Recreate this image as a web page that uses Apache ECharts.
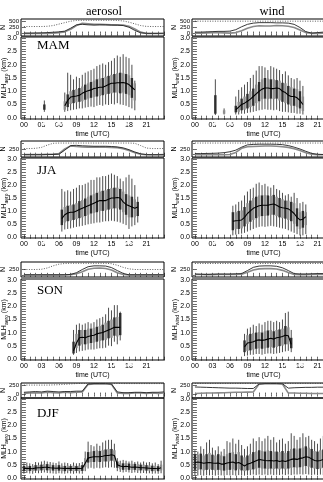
<!DOCTYPE html>
<html>
<head>
<meta charset="utf-8">
<script src="https://cdn.jsdelivr.net/npm/echarts@6/dist/echarts.min.js"></script>
<style>
html, body { margin: 0; padding: 0; background: #fff; }
#chart { width: 323px; height: 482px; }
</style>
</head>
<body>
<div id="chart"></div>
<script>
// ticks and labels
const hourTicks = [0,1,2,3,4,5,6,7,8,9,10,11,12,13,14,15,16,17,18,19,20,21,22,23,24];
const hourLabels = [0,3,6,9,12,15,18,21];
const mlhLabels = [0,0.5,1,1.5,2,2.5,3];
const mlhTicks = [0,0.1,0.2,0.3,0.4,0.5,0.6,0.7,0.8,0.9,1,1.1,1.2,1.3,1.4,1.5,1.6,1.7,1.8,1.9,2,2.1,2.2,2.3,2.4,2.5,2.6,2.7,2.8,2.9,3];
const nHours = [0,1,2,3,4,5,6,7,8,9,10,11,12,13,14,15,16,17,18,19,20,21,22,23,24];

// box rows: [hour, low whisker, lower box, median, upper box, high whisker]
const mamAerosol = [
  [3.5,0.22,0.30,0.40,0.50,0.65],
  [7.0,0.22,0.30,0.45,0.62,0.95],[7.5,0.25,0.40,0.65,0.88,1.70],[8.0,0.28,0.52,0.78,1.00,1.62],
  [8.5,0.30,0.55,0.80,1.05,1.45],[9.0,0.32,0.58,0.82,1.08,1.55],[9.5,0.35,0.60,0.85,1.12,1.50],
  [10.0,0.35,0.62,0.92,1.18,1.62],[10.5,0.38,0.68,0.98,1.25,1.70],[11.0,0.40,0.72,1.02,1.30,1.75],
  [11.5,0.42,0.75,1.05,1.35,1.80],[12.0,0.40,0.78,1.10,1.40,1.85],[12.5,0.45,0.80,1.12,1.45,1.95],
  [13.0,0.48,0.82,1.15,1.48,2.00],[13.5,0.45,0.85,1.15,1.50,2.05],[14.0,0.50,0.88,1.20,1.55,2.00],
  [14.5,0.48,0.90,1.25,1.58,2.10],[15.0,0.52,0.92,1.30,1.62,2.15],[15.5,0.50,0.95,1.30,1.65,2.25],
  [16.0,0.55,0.95,1.32,1.68,2.35],[16.5,0.50,0.92,1.32,1.70,2.30],[17.0,0.48,0.95,1.33,1.68,2.40],
  [17.5,0.45,0.90,1.30,1.65,2.30],[18.0,0.40,0.85,1.25,1.60,2.25],[18.5,0.35,0.75,1.15,1.50,2.00],
  [19.0,0.28,0.65,1.05,1.30,1.40]
];
const mamWind = [
  [3.5,0.10,0.15,0.30,0.85,1.45],[5.0,0.12,0.15,0.22,0.28,0.35],
  [7.0,0.12,0.20,0.30,0.45,0.80],[7.5,0.12,0.22,0.40,0.60,1.05],[8.0,0.15,0.28,0.50,0.72,1.15],
  [8.5,0.15,0.30,0.55,0.80,1.25],[9.0,0.18,0.35,0.62,0.90,1.35],[9.5,0.20,0.40,0.70,1.00,1.50],
  [10.0,0.22,0.45,0.80,1.10,1.62],[10.5,0.25,0.55,0.90,1.25,1.78],[11.0,0.28,0.62,1.00,1.35,1.95],
  [11.5,0.30,0.70,1.08,1.45,1.95],[12.0,0.32,0.72,1.12,1.50,1.90],[12.5,0.30,0.70,1.12,1.48,1.80],
  [13.0,0.30,0.72,1.10,1.45,1.95],[13.5,0.28,0.70,1.10,1.45,1.90],[14.0,0.30,0.72,1.12,1.42,1.85],
  [14.5,0.25,0.65,1.10,1.40,1.80],[15.0,0.22,0.60,1.00,1.32,1.65],[15.5,0.22,0.55,0.95,1.30,1.75],
  [16.0,0.20,0.50,0.85,1.20,1.60],[16.5,0.18,0.45,0.80,1.15,1.50],[17.0,0.18,0.45,0.80,1.10,1.45],
  [17.5,0.15,0.40,0.75,1.08,1.50],[18.0,0.15,0.35,0.65,1.00,1.40],[18.5,0.12,0.25,0.50,0.80,1.20]
];
const jjaAerosol = [
  [6.5,0.20,0.45,0.70,1.05,1.85],[7.0,0.28,0.55,0.85,1.15,1.75],[7.5,0.30,0.60,0.92,1.20,1.80],
  [8.0,0.32,0.62,0.95,1.22,1.75],[8.5,0.35,0.65,0.95,1.25,1.85],[9.0,0.38,0.68,1.00,1.30,1.90],
  [9.5,0.40,0.72,1.05,1.38,2.00],[10.0,0.42,0.75,1.10,1.42,2.00],[10.5,0.45,0.80,1.15,1.48,2.05],
  [11.0,0.48,0.85,1.20,1.55,2.10],[11.5,0.50,0.90,1.25,1.60,2.20],[12.0,0.52,0.92,1.30,1.65,2.20],
  [12.5,0.55,0.95,1.35,1.70,2.30],[13.0,0.55,1.00,1.40,1.75,2.30],[13.5,0.58,1.00,1.40,1.78,2.35],
  [14.0,0.60,1.02,1.40,1.80,2.35],[14.5,0.60,1.05,1.45,1.85,2.40],[15.0,0.62,1.08,1.50,1.88,2.45],
  [15.5,0.60,1.10,1.50,1.90,2.40],[16.0,0.58,1.10,1.52,1.90,2.35],[16.5,0.55,1.05,1.50,1.85,2.25],
  [17.0,0.50,0.95,1.35,1.75,2.15],[17.5,0.45,0.85,1.25,1.65,2.30],[18.0,0.30,0.75,1.20,1.60,2.40],
  [18.5,0.40,0.75,1.15,1.55,2.25],[19.0,0.45,0.75,1.10,1.45,2.00],[19.5,0.55,0.80,1.15,1.35,1.55]
];
const jjaWind = [
  [6.5,0.05,0.25,0.60,0.95,1.20],[7.0,0.08,0.30,0.62,0.95,1.25],[7.5,0.10,0.30,0.63,1.00,1.35],
  [8.0,0.12,0.32,0.65,1.02,1.40],[8.5,0.15,0.40,0.75,1.15,1.60],[9.0,0.20,0.50,0.90,1.30,1.75],
  [9.5,0.25,0.58,1.00,1.40,1.85],[10.0,0.30,0.65,1.10,1.50,1.90],[10.5,0.35,0.72,1.15,1.55,2.05],
  [11.0,0.38,0.78,1.20,1.60,2.10],[11.5,0.40,0.80,1.22,1.60,2.00],[12.0,0.38,0.80,1.22,1.62,2.05],
  [12.5,0.40,0.82,1.22,1.60,1.95],[13.0,0.42,0.85,1.25,1.58,1.90],[13.5,0.40,0.85,1.27,1.62,2.00],
  [14.0,0.38,0.80,1.22,1.55,1.85],[14.5,0.35,0.75,1.15,1.50,1.80],[15.0,0.32,0.72,1.12,1.45,1.70],
  [15.5,0.30,0.70,1.10,1.40,1.60],[16.0,0.25,0.65,1.08,1.40,1.65],[16.5,0.20,0.60,1.00,1.35,1.55],
  [17.0,0.15,0.50,0.90,1.30,1.70],[17.5,0.10,0.40,0.75,1.10,1.50],[18.0,0.05,0.30,0.65,0.95,1.30],
  [18.5,0.05,0.35,0.68,1.00,1.35],[19.0,0.10,0.45,0.78,0.95,1.25]
];
const sonAerosol = [
  [8.5,0.15,0.20,0.30,0.65,1.10],[9.0,0.22,0.40,0.60,0.95,1.30],[9.5,0.28,0.50,0.80,1.10,1.35],
  [10.0,0.30,0.55,0.82,1.10,1.30],[10.5,0.32,0.55,0.80,1.10,1.35],[11.0,0.35,0.58,0.85,1.15,1.40],
  [11.5,0.35,0.60,0.88,1.15,1.35],[12.0,0.35,0.62,0.90,1.18,1.40],[12.5,0.38,0.65,0.95,1.22,1.50],
  [13.0,0.40,0.68,0.98,1.25,1.55],[13.5,0.40,0.70,1.00,1.30,1.60],[14.0,0.42,0.72,1.05,1.38,1.70],
  [14.5,0.50,0.78,1.10,1.45,1.95],[15.0,0.48,0.80,1.15,1.50,1.85],[15.5,0.65,0.88,1.20,1.58,2.05],
  [16.0,0.55,0.85,1.20,1.60,2.05],[16.5,0.70,0.90,1.20,1.75,1.80]
];
const sonWind = [
  [8.5,0.10,0.25,0.45,0.70,0.95],[9.0,0.12,0.30,0.60,0.90,1.15],[9.5,0.15,0.32,0.62,0.95,1.20],
  [10.0,0.15,0.35,0.65,0.98,1.30],[10.5,0.18,0.38,0.70,1.00,1.25],[11.0,0.18,0.40,0.72,1.02,1.35],
  [11.5,0.15,0.38,0.70,1.00,1.30],[12.0,0.18,0.40,0.72,1.05,1.40],[12.5,0.20,0.42,0.75,1.08,1.45],
  [13.0,0.20,0.45,0.78,1.10,1.45],[13.5,0.18,0.42,0.75,1.05,1.40],[14.0,0.20,0.45,0.80,1.10,1.45],
  [14.5,0.22,0.48,0.82,1.12,1.40],[15.0,0.25,0.50,0.85,1.15,1.50],[15.5,0.28,0.55,0.90,1.25,1.75],
  [16.0,0.30,0.55,0.88,1.20,1.80],[16.5,0.25,0.40,0.55,0.80,1.10]
];
const djfAerosol = [
  [0.0,0.15,0.25,0.35,0.45,0.55],[0.5,0.18,0.27,0.36,0.46,0.58],[1.0,0.16,0.26,0.35,0.45,0.55],
  [1.5,0.15,0.25,0.34,0.44,0.52],[2.0,0.18,0.27,0.37,0.48,0.60],[2.5,0.17,0.27,0.38,0.48,0.58],
  [3.0,0.18,0.28,0.38,0.50,0.62],[3.5,0.20,0.30,0.40,0.52,0.65],[4.0,0.18,0.28,0.40,0.52,0.62],
  [4.5,0.17,0.28,0.38,0.50,0.60],[5.0,0.16,0.27,0.37,0.48,0.58],[5.5,0.15,0.26,0.36,0.47,0.56],
  [6.0,0.17,0.27,0.37,0.48,0.62],[6.5,0.16,0.26,0.36,0.46,0.55],[7.0,0.15,0.25,0.35,0.45,0.58],
  [7.5,0.17,0.27,0.36,0.46,0.56],[8.0,0.16,0.26,0.35,0.45,0.52],[8.5,0.15,0.25,0.35,0.46,0.58],
  [9.0,0.17,0.26,0.36,0.45,0.55],[9.5,0.16,0.25,0.35,0.46,0.56],[10.0,0.15,0.26,0.36,0.48,0.60],
  [10.5,0.25,0.40,0.55,0.75,1.00],[11.0,0.35,0.58,0.75,0.98,1.38],[11.5,0.38,0.60,0.78,1.00,1.25],
  [12.0,0.35,0.60,0.80,1.02,1.20],[12.5,0.38,0.62,0.80,1.05,1.30],[13.0,0.36,0.60,0.80,1.02,1.22],
  [13.5,0.38,0.62,0.82,1.05,1.35],[14.0,0.40,0.62,0.85,1.08,1.42],[14.5,0.38,0.62,0.85,1.10,1.45],
  [15.0,0.40,0.65,0.88,1.10,1.45],[15.5,0.38,0.62,0.85,1.05,1.30],[16.0,0.25,0.38,0.50,0.62,0.75],
  [16.5,0.22,0.32,0.45,0.55,0.65],[17.0,0.20,0.30,0.42,0.55,0.68],[17.5,0.22,0.32,0.44,0.56,0.65],
  [18.0,0.20,0.30,0.42,0.54,0.62],[18.5,0.18,0.30,0.40,0.52,0.65],[19.0,0.20,0.30,0.41,0.53,0.60],
  [19.5,0.18,0.28,0.40,0.52,0.62],[20.0,0.17,0.28,0.38,0.50,0.58],[20.5,0.18,0.28,0.38,0.50,0.62],
  [21.0,0.16,0.27,0.37,0.48,0.58],[21.5,0.17,0.27,0.36,0.47,0.60],[22.0,0.15,0.25,0.35,0.46,0.55],
  [22.5,0.16,0.26,0.35,0.45,0.58],[23.0,0.15,0.25,0.34,0.44,0.52],[23.5,0.17,0.28,0.38,0.50,0.65]
];
const djfWind = [
  [0.0,0.10,0.30,0.58,0.90,1.05],[0.5,0.08,0.30,0.60,0.88,1.00],[1.0,0.10,0.32,0.58,0.92,1.20],
  [1.5,0.08,0.28,0.55,0.85,1.10],[2.0,0.10,0.30,0.57,0.90,1.35],[2.5,0.09,0.32,0.58,0.95,1.45],
  [3.0,0.10,0.30,0.56,0.88,1.15],[3.5,0.08,0.28,0.55,0.85,1.05],[4.0,0.10,0.30,0.56,0.90,1.20],
  [4.5,0.09,0.28,0.52,0.85,1.00],[5.0,0.08,0.27,0.52,0.82,1.10],[5.5,0.10,0.30,0.56,0.90,1.40],
  [6.0,0.09,0.30,0.58,0.95,1.35],[6.5,0.10,0.32,0.60,0.98,1.50],[7.0,0.08,0.28,0.55,0.90,1.30],
  [7.5,0.10,0.32,0.58,0.98,1.45],[8.0,0.09,0.28,0.52,0.85,1.25],[8.5,0.08,0.25,0.45,0.78,1.10],
  [9.0,0.10,0.28,0.52,0.85,1.20],[9.5,0.10,0.30,0.55,0.90,1.30],[10.0,0.12,0.32,0.60,0.98,1.50],
  [10.5,0.10,0.35,0.65,1.00,1.40],[11.0,0.12,0.38,0.70,1.05,1.55],[11.5,0.10,0.35,0.68,1.02,1.40],
  [12.0,0.12,0.35,0.66,1.00,1.50],[12.5,0.10,0.33,0.65,1.05,1.60],[13.0,0.12,0.35,0.66,1.02,1.45],
  [13.5,0.10,0.33,0.64,1.00,1.55],[14.0,0.11,0.35,0.66,1.00,1.35],[14.5,0.10,0.32,0.62,0.98,1.45],
  [15.0,0.12,0.35,0.65,1.02,1.50],[15.5,0.10,0.32,0.62,0.95,1.30],[16.0,0.12,0.35,0.66,1.02,1.40],
  [16.5,0.10,0.38,0.70,1.10,1.70],[17.0,0.12,0.40,0.72,1.12,1.60],[17.5,0.12,0.38,0.70,1.08,1.45],
  [18.0,0.13,0.40,0.74,1.12,1.55],[18.5,0.12,0.42,0.76,1.15,1.70],[19.0,0.14,0.45,0.80,1.20,1.55],
  [19.5,0.12,0.42,0.78,1.15,1.60],[20.0,0.10,0.38,0.72,1.10,1.45],[20.5,0.12,0.35,0.66,1.02,1.40],
  [21.0,0.10,0.33,0.64,1.00,1.30],[21.5,0.12,0.35,0.66,1.05,1.50],[22.0,0.10,0.38,0.70,1.08,1.60],
  [22.5,0.12,0.40,0.75,1.12,1.55],[23.0,0.13,0.42,0.78,1.15,1.65],[23.5,0.12,0.40,0.72,1.10,1.45]
];

// N per hour: all profiles (dotted), and two valid counts
const mamAerosolNAll = [290,290,290,290,300,330,390,450,510,540,545,545,545,545,545,545,540,520,470,400,330,295,290,290,290];
const mamAerosolNA = [20,20,25,30,40,55,70,100,220,360,380,360,350,360,360,350,345,330,260,130,30,10,10,10,15];
const mamAerosolNB = [0,0,0,5,10,20,40,70,180,330,420,400,380,380,370,360,360,350,300,190,60,5,0,0,0];
const mamWindNAll = [510,510,510,510,510,510,510,510,510,510,510,510,510,510,510,510,510,510,510,510,510,510,510,510,510];
const mamWindNA = [60,60,70,80,90,90,100,160,280,380,430,450,450,450,440,440,430,380,250,80,20,40,60,70,60];
const mamWindNB = [20,20,30,40,40,30,20,40,120,220,290,320,310,310,330,320,300,250,150,40,10,10,20,30,20];
const jjaAerosolNAll = [270,270,280,320,420,500,510,510,510,510,510,510,510,510,510,510,510,510,510,500,400,290,270,270,270];
const jjaAerosolNA = [0,0,0,0,5,10,20,200,400,410,390,380,370,370,370,360,340,300,220,120,40,5,0,0,0];
const jjaAerosolNB = [10,10,10,10,20,30,50,250,380,360,340,330,330,330,330,320,310,260,180,90,20,0,0,0,5];
const jjaWindNAll = [510,510,510,510,510,510,510,510,510,510,510,510,510,510,510,510,510,510,510,510,510,510,510,510,510];
const jjaWindNA = [50,50,55,60,70,90,130,200,330,430,450,460,460,460,455,440,400,330,250,150,60,20,10,20,40];
const jjaWindNB = [0,0,0,0,0,0,10,100,280,350,360,370,380,380,370,350,320,260,180,90,20,0,0,0,0];
const sonAerosolNAll = [250,250,250,260,320,420,500,530,540,540,540,540,540,540,540,520,450,350,280,250,250,250,250,250,250];
const sonAerosolNA = [0,0,0,0,0,0,0,5,20,100,250,380,420,420,410,340,200,70,0,0,0,0,0,0,0];
const sonAerosolNB = [0,0,0,0,0,0,0,0,10,50,150,260,310,320,300,230,100,20,0,0,0,0,0,0,0];
const sonWindNAll = [530,530,530,530,530,530,530,530,530,530,530,530,530,530,530,530,530,530,530,530,530,530,530,530,530];
const sonWindNA = [40,30,20,30,40,40,40,50,60,200,350,410,420,420,400,330,200,60,40,40,50,60,60,50,40];
const sonWindNB = [20,20,10,10,20,20,20,20,30,120,230,280,290,290,270,210,110,20,10,10,20,20,20,20,20];
const djfAerosolNAll = [250,250,250,250,250,255,260,270,280,290,295,295,295,295,295,295,295,290,290,290,290,290,290,290,290];
const djfAerosolNA = [60,70,80,70,90,80,70,80,80,90,90,280,290,290,290,280,70,50,50,60,60,50,60,60,70];
const djfAerosolNB = [30,40,50,40,60,50,40,60,50,60,70,270,280,280,285,270,40,30,30,40,40,30,40,30,40];
const djfWindNAll = [295,295,295,295,295,295,295,295,295,295,295,295,295,295,295,295,295,295,295,295,295,295,295,295,295];
const djfWindNA = [200,195,190,185,180,175,170,170,165,160,160,280,290,290,290,285,170,180,185,190,190,195,195,200,200];
const djfWindNB = [30,35,40,40,45,50,55,60,60,65,70,275,285,285,285,280,40,40,35,35,30,30,30,35,35];

// sunrise / sunset marks (hours)
const mamSun = [3.6, 6.0, 17.3, 19.6];
const jjaSun = [3.6, 4.9, 18.0, 19.8];
const sonSun = [5.1, 7.8, 15.7, 18.2];
const djfSun = [];

const seasons = ['MAM', 'JJA', 'SON', 'DJF'];
const columns = ['aerosol', 'wind'];

// layout (pixels)
const rows = [
  { nTop: 19, nH: 17, mTop: 37, mH: 82, label: 46 },
  { nTop: 141, nH: 16, mTop: 158, mH: 80, label: 171 },
  { nTop: 262, nH: 15, mTop: 279, mH: 81, label: 291 },
  { nTop: 383, nH: 15, mTop: 398, mH: 81, label: 414 }
];
const colLeft = [21, 192];
const colWidth = 143;
const nRange = [[-100, 600], [-100, 600], [-100, 600], [-90, 305]];
const nLabelVals = [[0, 250, 500], [0, 250, 500], [0, 250], [0, 250]];

const boxes = [[mamAerosol, mamWind], [jjaAerosol, jjaWind], [sonAerosol, sonWind], [djfAerosol, djfWind]];
const counts = [
  [[mamAerosolNAll, mamAerosolNA, mamAerosolNB], [mamWindNAll, mamWindNA, mamWindNB]],
  [[jjaAerosolNAll, jjaAerosolNA, jjaAerosolNB], [jjaWindNAll, jjaWindNA, jjaWindNB]],
  [[sonAerosolNAll, sonAerosolNA, sonAerosolNB], [sonWindNAll, sonWindNA, sonWindNB]],
  [[djfAerosolNAll, djfAerosolNA, djfAerosolNB], [djfWindNAll, djfWindNA, djfWindNB]]
];
const sunMarks = [mamSun, jjaSun, sonSun, djfSun];

const sans = '"Liberation Sans", Arial, sans-serif';
const serif = '"Liberation Serif", "DejaVu Serif", serif';
const pad2 = v => String(v).padStart(2, '0');

function renderBox(params, api) {
  const h = api.value(0);
  const lo = api.coord([h, api.value(1)]);
  const q1 = api.coord([h, api.value(2)]);
  const q3 = api.coord([h, api.value(4)]);
  const hi = api.coord([h, api.value(5)]);
  const w = 2.4;
  const fill = params.dataIndex % 2 ? '#8e8e8e' : '#2e2e2e';
  return {
    type: 'group',
    children: [
      { type: 'line', shape: { x1: lo[0], y1: lo[1], x2: hi[0], y2: hi[1] },
        style: { stroke: '#3a3a3a', lineWidth: 0.9 } },
      { type: 'rect', shape: { x: q3[0] - w / 2, y: q3[1], width: w, height: q1[1] - q3[1] },
        style: { fill: fill } }
    ]
  };
}

const grid = [], xAxis = [], yAxis = [], series = [], graphic = [];
const tickStyle = { inside: true, length: 2, lineStyle: { color: '#000', width: 0.6 } };

seasons.forEach((season, r) => {
  columns.forEach((col, c) => {
    const L = rows[r];
    const g = grid.length;
    const ax = xAxis.length;
    grid.push({ left: colLeft[c], top: L.mTop, width: colWidth, height: L.mH, outerBoundsMode: 'none',
                show: true, borderColor: '#000', borderWidth: 1, backgroundColor: 'transparent' });
    grid.push({ left: colLeft[c], top: L.nTop, width: colWidth, height: L.nH, outerBoundsMode: 'none',
                show: true, borderColor: '#000', borderWidth: 1, backgroundColor: 'transparent' });

    // main panel axes
    xAxis.push({
      type: 'value', gridIndex: g, min: -0.5, max: 24,
      axisLine: { show: false }, splitLine: { show: false },
      axisTick: Object.assign({ customValues: hourTicks }, tickStyle),
      axisLabel: { customValues: hourLabels, formatter: pad2, fontSize: 7, fontFamily: sans, color: '#000', margin: 3, hideOverlap: false },
      name: 'time (UTC)', nameLocation: 'middle', nameGap: 12, nameMoveOverlap: false,
      nameTextStyle: { fontSize: 7, fontFamily: sans, color: '#000' }
    });
    xAxis.push({
      type: 'value', gridIndex: g, min: -0.5, max: 24, position: 'top',
      axisLine: { show: false }, splitLine: { show: false }, axisLabel: { show: false },
      axisTick: Object.assign({ customValues: hourTicks }, tickStyle)
    });
    // count panel axes
    xAxis.push({
      type: 'value', gridIndex: g + 1, min: -0.5, max: 24,
      axisLine: { show: false }, splitLine: { show: false }, axisLabel: { show: false },
      axisTick: Object.assign({ customValues: hourTicks }, tickStyle)
    });
    xAxis.push({
      type: 'value', gridIndex: g + 1, min: -0.5, max: 24, position: 'top',
      axisLine: { show: false }, splitLine: { show: false }, axisLabel: { show: false },
      axisTick: Object.assign({ customValues: hourTicks }, tickStyle)
    });

    const sub = c === 0 ? 'aero' : 'wind';
    const lblMargin = c === 0 ? 4 : 2;
    const nMargin = c === 0 ? 2 : 2;
    const nameGap = 12;
    yAxis.push({
      type: 'value', gridIndex: g, min: -0.05, max: 3.05,
      axisLine: { show: false }, splitLine: { show: false },
      axisTick: Object.assign({ customValues: mlhTicks }, tickStyle),
      axisLabel: { customValues: mlhLabels, formatter: v => v.toFixed(1), fontSize: 7, fontFamily: sans, color: '#000', margin: lblMargin, hideOverlap: false },
      name: '{m|MLH}{s|' + sub + '}{m| (km)}', nameLocation: 'middle', nameRotate: 90, nameGap: nameGap,
      nameMoveOverlap: false,
      nameTextStyle: {
        color: '#000',
        rich: {
          m: { fontSize: 7, fontFamily: sans, color: '#000', lineHeight: 9, verticalAlign: 'middle' },
          s: { fontSize: 5, fontFamily: sans, color: '#000', lineHeight: 9, verticalAlign: 'bottom' }
        }
      }
    });
    yAxis.push({
      type: 'value', gridIndex: g, min: -0.05, max: 3.05, position: 'right',
      axisLine: { show: false }, splitLine: { show: false }, axisLabel: { show: false },
      axisTick: Object.assign({ customValues: mlhTicks }, tickStyle)
    });
    yAxis.push({
      type: 'value', gridIndex: g + 1, min: nRange[r][0], max: nRange[r][1],
      axisLine: { show: false }, splitLine: { show: false },
      axisTick: Object.assign({ customValues: nLabelVals[r] }, tickStyle),
      axisLabel: { customValues: nLabelVals[r], fontSize: 6, lineHeight: 6, fontFamily: sans, color: '#000', margin: nMargin, hideOverlap: false },
      name: 'N', nameLocation: 'middle', nameRotate: 90, nameGap: 14, nameMoveOverlap: false,
      nameTextStyle: { fontSize: 7, fontFamily: sans, color: '#000' }
    });
    yAxis.push({
      type: 'value', gridIndex: g + 1, min: nRange[r][0], max: nRange[r][1], position: 'right',
      axisLine: { show: false }, splitLine: { show: false }, axisLabel: { show: false },
      axisTick: Object.assign({ customValues: nLabelVals[r] }, tickStyle)
    });

    // boxes and median
    const data = boxes[r][c];
    series.push({
      type: 'custom', xAxisIndex: ax, yAxisIndex: ax, data: data,
      renderItem: renderBox, encode: { x: 0, y: [1, 5] }, silent: true, z: 2
    });
    const med = [];
    data.forEach((row, i) => {
      if (i > 0 && row[0] - data[i - 1][0] > 0.6) med.push([row[0], '-']);
      med.push([row[0], row[3]]);
    });
    series.push({
      type: 'line', xAxisIndex: ax, yAxisIndex: ax, data: med, showSymbol: false,
      connectNulls: false, lineStyle: { color: '#000', width: 1.1 }, silent: true, z: 3
    });
    if (sunMarks[r].length) {
      series.push({
        type: 'scatter', xAxisIndex: ax, yAxisIndex: ax, clip: false,
        data: sunMarks[r].map(h => [h, -0.2]), symbol: 'emptyTriangle', symbolSize: [4, 3],
        itemStyle: { color: '#fff', borderColor: '#222', borderWidth: 0.7 }, silent: true, z: 4
      });
    }

    // counts
    const [nAll, nA, nB] = counts[r][c];
    const mk = arr => nHours.map((h, i) => [h, arr[i]]);
    series.push({
      type: 'line', xAxisIndex: ax + 2, yAxisIndex: ax + 2, data: mk(nAll), showSymbol: false,
      lineStyle: { color: '#333', width: 0.8, type: [1, 1.5] }, silent: true
    });
    series.push({
      type: 'line', xAxisIndex: ax + 2, yAxisIndex: ax + 2, data: mk(nB), showSymbol: false,
      lineStyle: { color: '#8a8a8a', width: 1.6 }, silent: true
    });
    series.push({
      type: 'line', xAxisIndex: ax + 2, yAxisIndex: ax + 2, data: mk(nA), showSymbol: false,
      lineStyle: { color: '#222', width: 0.9 }, silent: true
    });
  });

  graphic.push({
    type: 'text', x: 37, y: rows[r].label,
    style: { text: season, font: '13px ' + serif, fill: '#000', textAlign: 'left', textVerticalAlign: 'middle' }
  });
});

graphic.push({
  type: 'text', x: 104, y: 12,
  style: { text: columns[0], font: '12.5px ' + serif, fill: '#000', textAlign: 'center', textVerticalAlign: 'middle' }
});
graphic.push({
  type: 'text', x: 272, y: 12,
  style: { text: columns[1], font: '12.5px ' + serif, fill: '#000', textAlign: 'center', textVerticalAlign: 'middle' }
});

const chart = echarts.init(document.getElementById('chart'), null, { renderer: 'canvas' });
chart.setOption({
  animation: false,
  backgroundColor: '#fff',
  grid: grid,
  xAxis: xAxis,
  yAxis: yAxis,
  series: series,
  graphic: graphic
});
</script>
</body>
</html>
